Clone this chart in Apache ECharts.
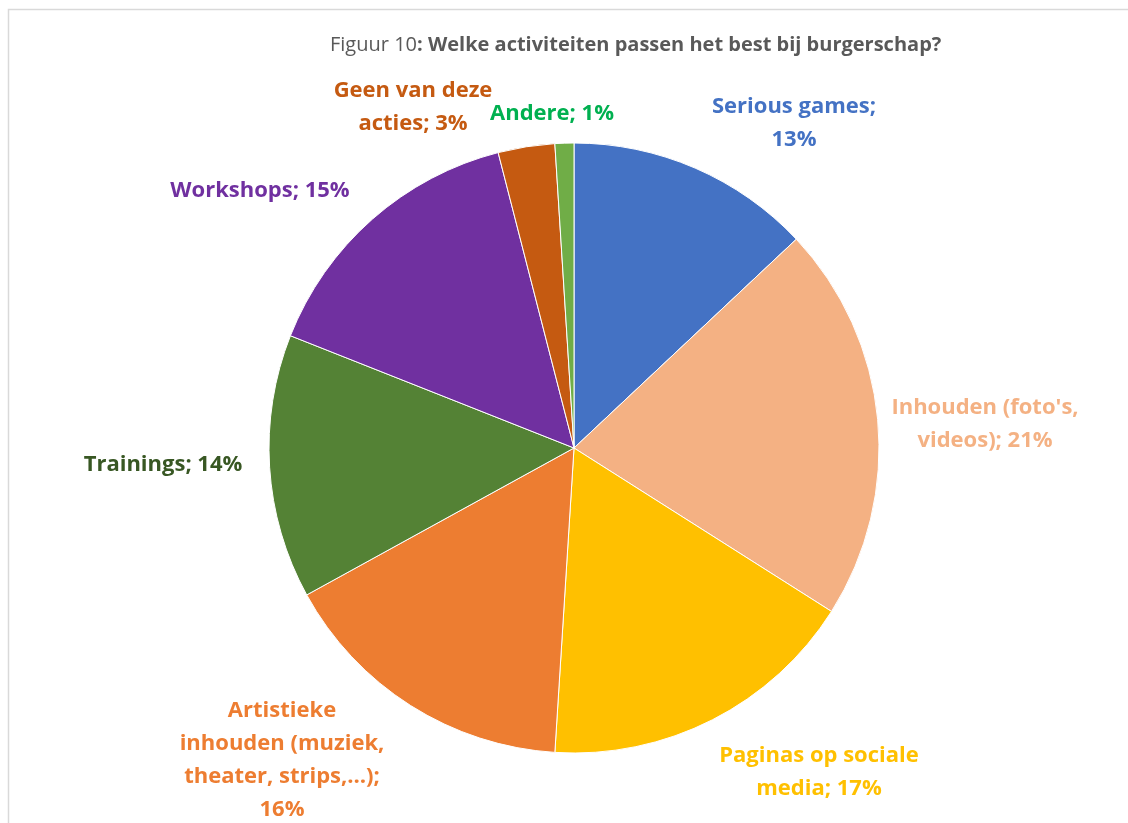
<!DOCTYPE html>
<html>
<head>
<meta charset="utf-8">
<script src="https://cdn.jsdelivr.net/npm/echarts@6/dist/echarts.min.js"></script>
<style>
  html, body { margin: 0; padding: 0; background: #fff; }
  #chart { width: 1128px; height: 823px; }
</style>
</head>
<body>
<div id="chart"></div>
<script>
  // slices, clockwise from 12 o'clock
  const categories = [
    'Serious games',
    "Inhouden (foto's,\nvideos)",
    'Paginas op sociale\nmedia',
    'Artistieke\ninhouden (muziek,\ntheater, strips,…)',
    'Trainings',
    'Workshops',
    'Geen van deze\nacties',
    'Andere'
  ]
  const percentages = [13, 21, 17, 16, 14, 15, 3, 1]
  // put the percentage on its own line?
  const pctOnNewLine = [true, false, false, true, false, false, false, false]

  const sliceColors = ['#4472C4', '#F4B183', '#FFC000', '#ED7D31', '#548235', '#7030A0', '#C55A11', '#70AD47']
  const labelColors = ['#4472C4', '#F4B183', '#FFC000', '#ED7D31', '#385723', '#7030A0', '#C55A11', '#00B050']
  // label centre relative to pie centre (px)
  const labelOffsets = [[220, -325], [411, -24], [245, 324], [-292, 312], [-411, 17], [-314, -257], [-161, -341], [-22, -334]]

  const pieCenter = [574, 448]
  const font = '"Open Sans", "Noto Sans", sans-serif'

  const chart = echarts.init(document.getElementById('chart'))

  chart.setOption({
    backgroundColor: '#fff',
    animation: false,
    graphic: [{
      type: 'rect',
      left: 6,
      top: 7,
      shape: { width: 1140, height: 840 },
      style: { fill: 'none', stroke: '#D9D9D9', lineWidth: 1.5 }
    }],
    title: {
      text: '{n|Figuur 10}{b|: Welke activiteiten passen het best bij burgerschap?}',
      left: 325,
      top: 30,
      textStyle: {
        rich: {
          n: { fontFamily: font, fontSize: 20, color: '#595959', fontWeight: 'normal' },
          b: { fontFamily: font, fontSize: 20, color: '#595959', fontWeight: 'bold' }
        }
      }
    },
    series: [{
      type: 'pie',
      center: pieCenter,
      radius: [0, 305],
      startAngle: 90,
      clockwise: true,
      avoidLabelOverlap: false,
      itemStyle: { borderColor: '#fff', borderWidth: 1 },
      labelLine: { show: false },
      label: {
        show: true,
        position: 'outside',
        fontFamily: font,
        fontWeight: 'bold',
        fontSize: 22,
        lineHeight: 33,
        align: 'center',
        formatter: p => p.name + ';' + (pctOnNewLine[p.dataIndex] ? '\n' : ' ') + p.value + '%'
      },
      labelLayout: p => ({
        x: pieCenter[0] + labelOffsets[p.dataIndex][0],
        y: pieCenter[1] + labelOffsets[p.dataIndex][1],
        align: 'center',
        verticalAlign: 'middle'
      }),
      emphasis: { disabled: true },
      data: categories.map((c, i) => ({
        name: c,
        value: percentages[i],
        itemStyle: { color: sliceColors[i] },
        label: { color: labelColors[i] }
      }))
    }]
  })
</script>
</body>
</html>
